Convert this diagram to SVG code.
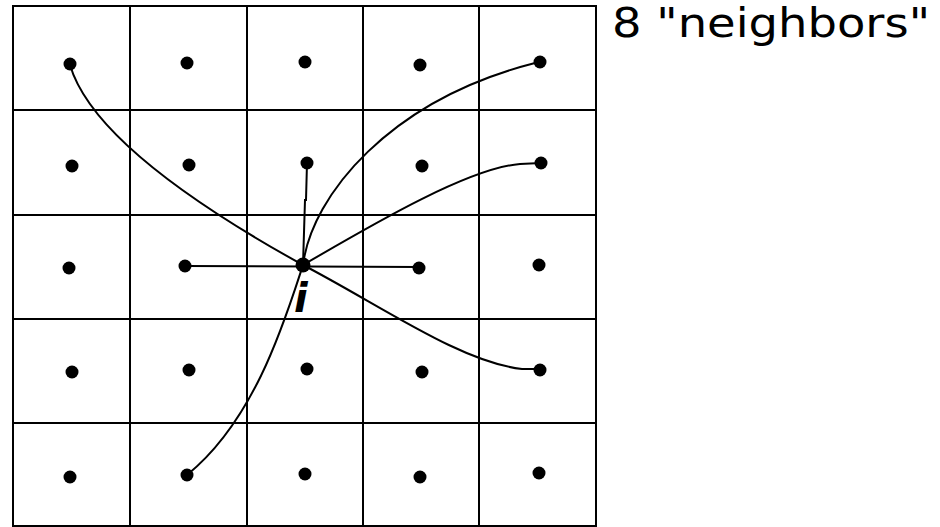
<svg xmlns="http://www.w3.org/2000/svg" width="940" height="527" viewBox="0 0 940 527">
<style>
.grid{stroke:#000;stroke-width:2;fill:none}
.con{stroke:#000;stroke-width:2;fill:none}
.dot{fill:#000}
.lbl{font-family:"DejaVu Sans","Liberation Sans",sans-serif;fill:#000}
</style>
<rect width="940" height="527" fill="#fff"/>
<g id="grid" class="grid">
<rect x="13" y="6" width="583" height="520"/>
<line x1="130" y1="6" x2="130" y2="526"/>
<line x1="247" y1="6" x2="247" y2="526"/>
<line x1="363" y1="6" x2="363" y2="526"/>
<line x1="479" y1="6" x2="479" y2="526"/>
<line x1="13" y1="110" x2="596" y2="110"/>
<line x1="13" y1="215" x2="596" y2="215"/>
<line x1="13" y1="319" x2="596" y2="319"/>
<line x1="13" y1="423" x2="596" y2="423"/>
</g>
<g id="connectors" class="con">
<path d="M70,65 Q95,150 303,265"/>
<path d="M307,163 L306,200 L305,200 L303,265"/>
<path d="M185,266 L419,267"/>
<path d="M303,265 C312,195 390,100 535,63 L540,62"/>
<path d="M303,265 C380,220 470,168 520,164 L541,163"/>
<path d="M303,265 C380,305 460,362 522,369 L540,369"/>
<path d="M303,265 C285,320 255,420 187,475"/>
</g>
<g id="dots" class="dot">
<circle cx="70" cy="64" r="6.5"/><circle cx="187" cy="63" r="6.5"/><circle cx="305" cy="62" r="6.5"/><circle cx="420" cy="65" r="6.5"/><circle cx="540" cy="62" r="6.5"/>
<circle cx="72" cy="166" r="6.5"/><circle cx="189" cy="165" r="6.5"/><circle cx="307" cy="163" r="6.5"/><circle cx="422" cy="166" r="6.5"/><circle cx="541" cy="163" r="6.5"/>
<circle cx="69" cy="268" r="6.5"/><circle cx="185" cy="266" r="6.5"/><circle cx="419" cy="268" r="6.5"/><circle cx="539" cy="265" r="6.5"/>
<circle cx="72" cy="372" r="6.5"/><circle cx="189" cy="370" r="6.5"/><circle cx="307" cy="369" r="6.5"/><circle cx="422" cy="372" r="6.5"/><circle cx="540" cy="370" r="6.5"/>
<circle cx="70" cy="477" r="6.5"/><circle cx="187" cy="475" r="6.5"/><circle cx="305" cy="474" r="6.5"/><circle cx="420" cy="477" r="6.5"/><circle cx="539" cy="473" r="6.5"/>
</g>
<g id="node-i">
<circle cx="303" cy="265" r="7.5" class="dot"/>
<text x="294" y="312" class="lbl" font-size="40" font-style="italic" font-weight="bold" font-family="Liberation Sans, sans-serif">i</text>
</g>
<g id="title">
<text x="612" y="37" class="lbl" font-size="41" textLength="318" lengthAdjust="spacingAndGlyphs">8 "neighbors"</text>
</g>
</svg>
